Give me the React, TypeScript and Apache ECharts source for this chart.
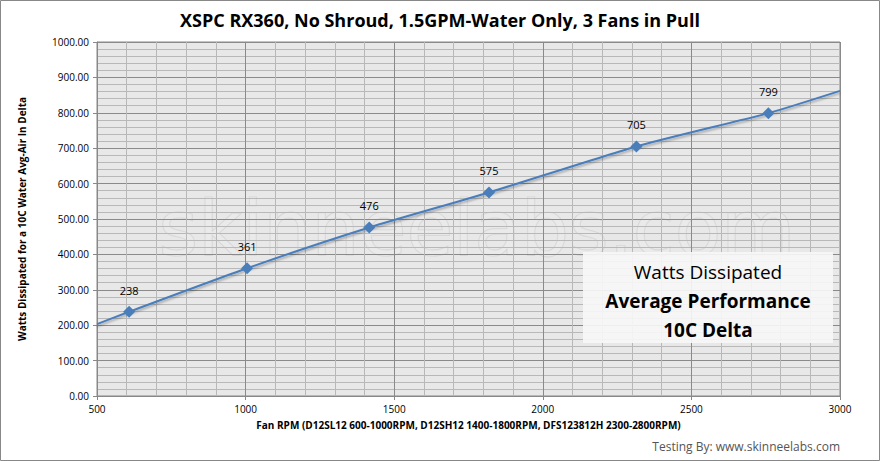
import { useEffect, useRef } from "react"
import * as echarts from "echarts"

// Fan RPM and watts dissipated at 10C delta
const rpm = [608, 1005, 1416, 1819, 2315, 2759]
const watts = [238, 361, 476, 575, 705, 799]
// trendline ends
const trendStart: [number, number] = [500, 203]
const trendEnd: [number, number] = [3000, 862]

export default function App() {
  const chartRef = useRef<HTMLDivElement>(null)

  useEffect(() => {
    document.body.style.margin = "0"
    if (!chartRef.current) return
    const chart = echarts.init(chartRef.current, null, { renderer: "svg" })
    const pts = rpm.map((x, i) => [x, watts[i]])
    const font = "'Open Sans', 'Noto Sans', sans-serif"
    const boxText = (text: string, y: number, bold: boolean) => ({
      type: "text",
      x: 708,
      y,
      z: 10,
      style: { text, align: "center", verticalAlign: "middle", fontFamily: font, fontWeight: bold ? "bold" : "normal", fontSize: 19, fill: "#000", stroke: "none", lineWidth: 0 },
    })

    chart.setOption({
      animation: false,
      backgroundColor: "#fff",
      title: {
        text: "XSPC RX360, No Shroud, 1.5GPM-Water Only, 3 Fans in Pull",
        left: "center",
        top: 6,
        textStyle: { fontFamily: font, fontWeight: "bold", fontSize: 18, color: "#000" },
      },
      grid: { left: 97, right: 40, top: 42, bottom: 65, show: true, backgroundColor: "#e8e8e8", borderColor: "#888", borderWidth: 1 },
      xAxis: {
        type: "value",
        min: 500,
        max: 3000,
        interval: 500,
        name: "Fan RPM (D12SL12 600-1000RPM, D12SH12 1400-1800RPM, DFS123812H 2300-2800RPM)",
        nameLocation: "middle",
        nameGap: 24,
        nameTextStyle: { fontFamily: font, fontWeight: "bold", fontSize: 10, color: "#000" },
        axisLine: { show: true, lineStyle: { color: "#888" } },
        axisTick: { show: true, length: 4, lineStyle: { color: "#888" } },
        axisLabel: { fontFamily: font, fontSize: 10, color: "#000", margin: 8, formatter: (v: number) => String(v) },
        splitLine: { show: true, lineStyle: { color: "#8a8a8a" } },
        minorTick: { show: false, splitNumber: 5 },
        minorSplitLine: { show: true, lineStyle: { color: "#b8b8b8" } },
      },
      yAxis: {
        type: "value",
        min: 0,
        max: 1000,
        interval: 100,
        name: "Watts Dissipated for a 10C Water Avg-Air In Delta",
        nameLocation: "middle",
        nameGap: 70,
        nameTextStyle: { fontFamily: font, fontWeight: "bold", fontSize: 10, color: "#000" },
        axisLine: { show: true, lineStyle: { color: "#888" } },
        axisTick: { show: true, length: 4, lineStyle: { color: "#888" } },
        axisLabel: { fontFamily: font, fontSize: 10, color: "#000", formatter: (v: number) => v.toFixed(2) },
        splitLine: { show: true, lineStyle: { color: "#8a8a8a" } },
        minorTick: { show: false, splitNumber: 5 },
        minorSplitLine: { show: true, lineStyle: { color: "#b8b8b8" } },
      },
      graphic: [
        {
          type: "text",
          left: 158,
          top: 190,
          silent: true,
          style: { text: "skinneelabs.com", fontFamily: "'DejaVu Sans', sans-serif", fontSize: 76, fill: "rgba(236,236,236,0.5)", stroke: "rgba(190,190,190,0.45)", lineWidth: 1.2 },
        },
        { type: "rect", z: 9, shape: { x: 583, y: 252, width: 250, height: 91 }, style: { fill: "rgba(246,246,246,0.92)" } },
        boxText("Watts Dissipated", 272, false),
        boxText("Average Performance", 301, true),
        boxText("10C Delta", 330, true),
        { type: "text", right: 40, top: 440, style: { text: "Testing By: www.skinneelabs.com", fontFamily: font, fontSize: 12, fill: "#555", stroke: "none" } },
        { type: "rect", shape: { x: 0.5, y: 0.5, width: 879, height: 460 }, style: { fill: "none", stroke: "#888" } },
      ],
      series: [
        {
          type: "line",
          data: [trendStart, ...pts, trendEnd],
          smooth: 0.2,
          symbol: "none",
          lineStyle: { color: "#4a7ebb", width: 2, shadowColor: "rgba(0,0,0,0.3)", shadowBlur: 2, shadowOffsetY: 2 },
          z: 2,
        },
        {
          type: "line",
          data: pts,
          lineStyle: { width: 0, opacity: 0 },
          symbol: "diamond",
          symbolSize: 12,
          itemStyle: { color: "#4a7ebb" },
          label: { show: true, position: "top", distance: 10, fontFamily: font, fontSize: 11, color: "#000" },
          z: 3,
        },
      ],
    })
    return () => chart.dispose()
  }, [])

  return <div ref={chartRef} style={{ width: 880, height: 461 }} />
}
